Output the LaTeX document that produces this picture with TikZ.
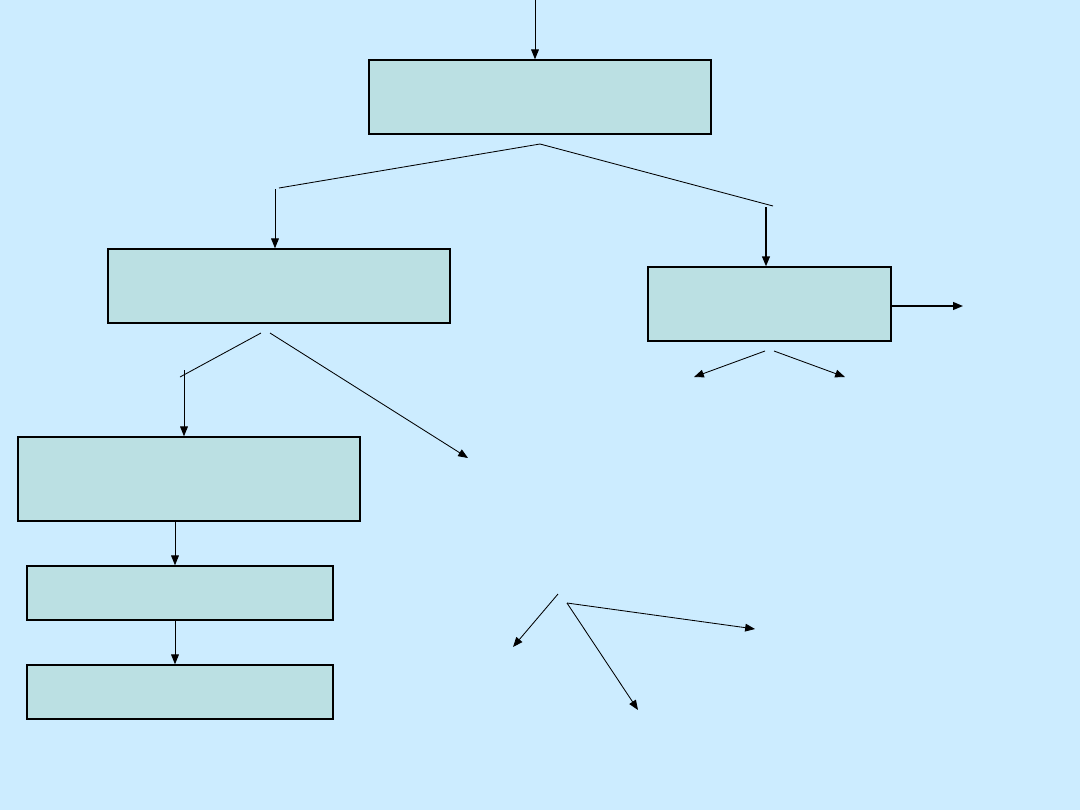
\documentclass[tikz,border=0pt]{standalone}
\usepackage{tikz}
\usepackage{xcolor}
\usetikzlibrary{
    arrows.meta,
    calc
  }
\definecolor{slidebg}{RGB}{204,236,255}
\definecolor{boxcolor}{RGB}{187,224,227}
\tikzset{
  box/.style={draw, fill=boxcolor, line width=1pt, rectangle, inner sep=0pt},
  link/.style={draw, line width=0.6pt},
  arr/.style={link, -{Triangle[length=7pt, width=5.5pt]}},
  thickarr/.style={arr, line width=1.1pt}
}

\begin{document}
\begin{tikzpicture}[x=0.025cm, y=-0.025cm]

\path[fill=slidebg] (0,0) rectangle (1080,810);
\useasboundingbox (0,0) rectangle (1080,810);

% boxes
\node[box, minimum width=342*0.025cm, minimum height=74*0.025cm] (box_top) at (540,97) {};
\node[box, minimum width=342*0.025cm, minimum height=74*0.025cm] (box_left) at (279,286) {};
\node[box, minimum width=243*0.025cm, minimum height=74*0.025cm] (box_right) at (769.5,304) {};
\node[box, minimum width=342*0.025cm, minimum height=84*0.025cm] (box_low) at (189,479) {};
\node[box, minimum width=306*0.025cm, minimum height=54*0.025cm] (box_four) at (180,593) {};
\node[box, minimum width=306*0.025cm, minimum height=54*0.025cm] (box_five) at (180,692) {};

% free ends
\coordinate (in_top) at (535,0);
\coordinate (fork_top) at (540,144);
\coordinate (fork_top_l) at (279,188);
\coordinate (fork_top_r) at (773,206);
\coordinate (drop_left) at (275,189);
\coordinate (drop_right) at (766,207);
\coordinate (out_right) at (963,306);
\coordinate (rr_start_l) at (765,351);
\coordinate (rr_end_l) at (694,377);
\coordinate (rr_start_r) at (774,351);
\coordinate (rr_end_r) at (845,377);
\coordinate (lf_start_l) at (261,333);
\coordinate (lf_end_l) at (180,377);
\coordinate (drop_low) at (184,370);
\coordinate (lf_start_r) at (270,333);
\coordinate (lf_end_r) at (468,458);
\coordinate (sp_a) at (558,594);
\coordinate (sp_a_end) at (513,647);
\coordinate (sp_b) at (567,603);
\coordinate (sp_b_end) at (638,710);
\coordinate (sp_c_end) at (755,629);

% top
\path[arr] (in_top) -- (in_top |- box_top.north);
\path[link] (fork_top_l) -- (fork_top) -- (fork_top_r);
\path[arr] (drop_left) -- (drop_left |- box_left.north);
\path[thickarr] (drop_right) -- (drop_right |- box_right.north);

% right branch
\path[thickarr] (out_right -| box_right.east) -- (out_right);
\path[arr] (rr_start_l) -- (rr_end_l);
\path[arr] (rr_start_r) -- (rr_end_r);

% left branch
\path[link] (lf_start_l) -- (lf_end_l);
\path[arr] (drop_low) -- (drop_low |- box_low.north);
\path[arr] (lf_start_r) -- (lf_end_r);
\path[arr] ($(box_low.south)+(-14,0)$) coordinate (low_out) -- (low_out |- box_four.north);
\path[arr] ($(box_four.south)+(-5,0)$) coordinate (four_out) -- (four_out |- box_five.north);

% spread
\path[arr] (sp_a) -- (sp_a_end);
\path[arr] (sp_b) -- (sp_b_end);
\path[arr] (sp_b) -- (sp_c_end);

\end{tikzpicture}
\end{document}
